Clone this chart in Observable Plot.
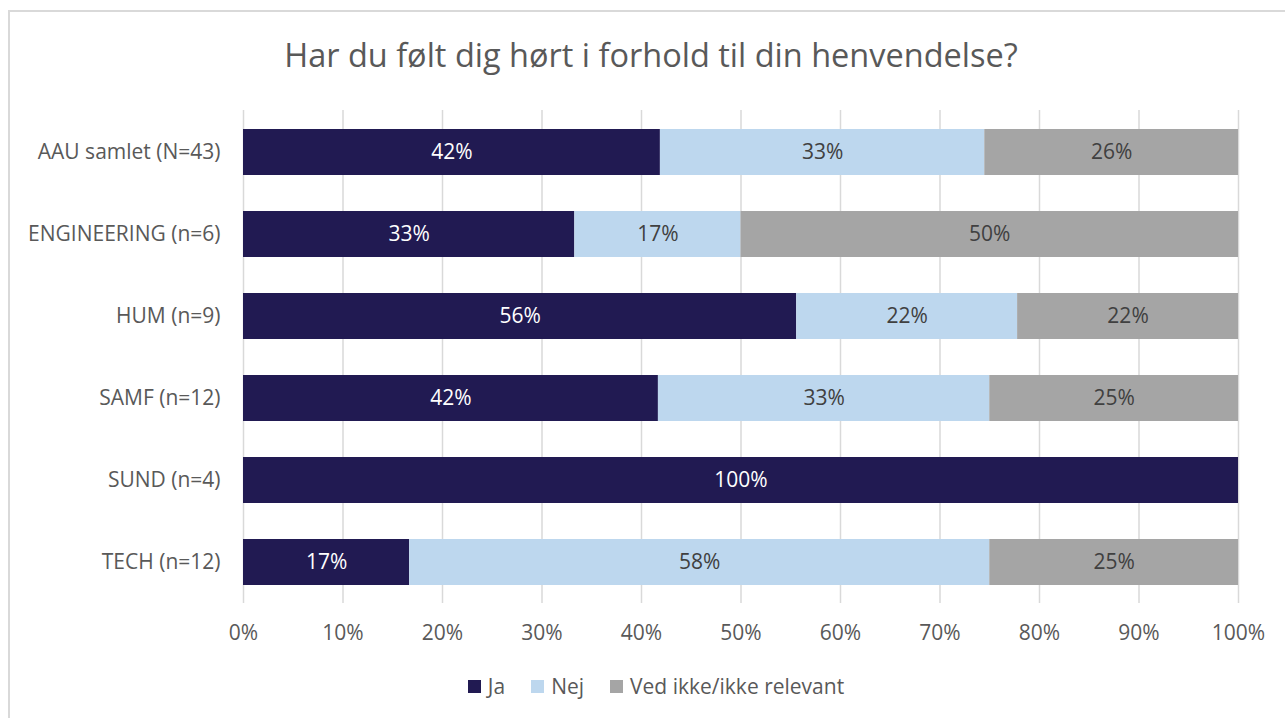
<!DOCTYPE html>
<html><head><meta charset="utf-8">
<script src="https://cdn.jsdelivr.net/npm/d3@7"></script>
<script src="https://cdn.jsdelivr.net/npm/@observablehq/plot@0.6"></script>
<style>
html,body{margin:0;background:#fff;font-family:"Open Sans",sans-serif;overflow:hidden;}
#frame{position:absolute;left:8px;top:10px;width:1300px;height:720px;border:2px solid #d9d9d9;box-sizing:border-box;}
#title{position:absolute;left:0;width:1302px;top:32px;text-align:center;font-size:32.5px;color:#595959;}
#chart{position:absolute;left:0;top:0;}
#legend{position:absolute;top:672px;left:0;width:1312px;display:flex;justify-content:center;gap:26px;font-size:21px;color:#595959;}
#legend span.item{display:flex;align-items:center;}
#legend span.sw{display:inline-block;width:13px;height:13px;margin-right:7px;}
</style></head>
<body>
<div id="frame"></div>
<div id="title">Har du følt dig hørt i forhold til din henvendelse?</div>
<div id="chart"></div>
<div id="legend"></div>
<script>
const categories = ["AAU samlet (N=43)", "ENGINEERING (n=6)", "HUM (n=9)", "SAMF (n=12)", "SUND (n=4)", "TECH (n=12)"];
const seriesNames = ["Ja", "Nej", "Ved ikke/ikke relevant"];
const ja     = [41.9, 33.3, 55.6, 41.7, 100, 16.7];
const nej    = [32.6, 16.7, 22.2, 33.3, 0, 58.3];
const vedIkke= [25.5, 50.0, 22.2, 25.0, 0, 25.0];
const colors = ["#211a52", "#bdd7ee", "#a5a5a5"];
const labelColors = ["#ffffff", "#404040", "#404040"];
const xTicks = [0,10,20,30,40,50,60,70,80,90,100];

const seriesValues = [ja, nej, vedIkke];
const data = [];
categories.forEach((c, i) => seriesNames.forEach((s, j) => data.push({cat: c, series: s, value: seriesValues[j][i], si: j})));

const chart = Plot.plot({
  width: 1285, height: 680,
  marginLeft: 243, marginRight: 47, marginTop: 110, marginBottom: 77,
  style: {fontFamily: "'Open Sans', sans-serif", fontSize: "21px", color: "#595959", background: "transparent"},
  x: {domain: [0, 100], ticks: xTicks, tickFormat: d => d + "%", tickSize: 0, tickPadding: 22, label: null},
  y: {domain: categories, tickSize: 0, tickPadding: 23, label: null, paddingInner: 0.44, paddingOuter: 0.22},
  color: {domain: seriesNames, range: colors},
  marks: [
    Plot.ruleX(xTicks, {stroke: "#d9d9d9", strokeWidth: 1.5}),
    Plot.barX(data, {x: "value", y: "cat", fill: "series", z: "series", order: seriesNames}),
    Plot.text(data, Plot.stackX({x: "value", y: "cat", z: "series", order: seriesNames,
      text: d => d.value > 0 ? Math.round(d.value) + "%" : "",
      fill: d => labelColors[d.si], fontSize: 21}))
  ]
});
document.getElementById("chart").appendChild(chart);

const legend = document.getElementById("legend");
seriesNames.forEach((s, j) => {
  const item = document.createElement("span"); item.className = "item";
  const sw = document.createElement("span"); sw.className = "sw"; sw.style.background = colors[j];
  item.appendChild(sw); item.appendChild(document.createTextNode(s));
  legend.appendChild(item);
});
</script>
</body></html>
